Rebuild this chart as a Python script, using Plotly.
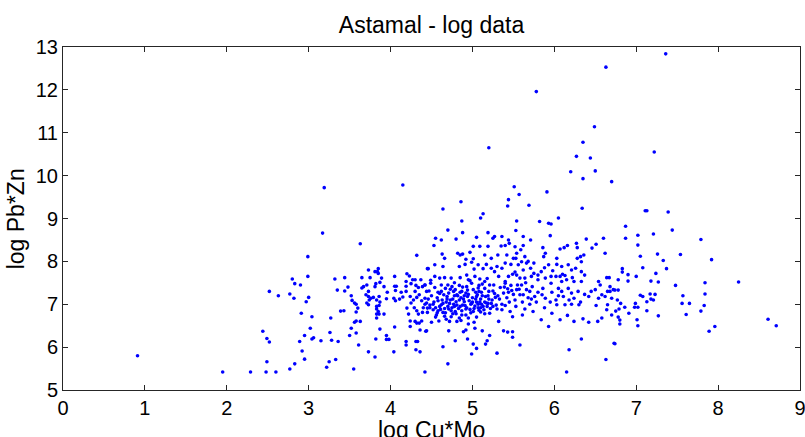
import plotly.graph_objects as go

title_text = "Astamal - log data"
x_label = "log Cu*Mo"
y_label = "log Pb*Zn"
x_ticks = [0, 1, 2, 3, 4, 5, 6, 7, 8, 9]
y_ticks = [5, 6, 7, 8, 9, 10, 11, 12, 13]

# (log Cu*Mo, log Pb*Zn) pairs
pts_low = [
    (0.91, 5.80), (1.95, 5.42),
    (3.17, 8.66), (3.63, 8.41), (4.32, 8.14), (2.99, 8.11), (2.99, 7.65), (2.80, 7.59), (2.83, 7.48),
    (2.90, 7.45), (2.52, 7.30), (2.63, 7.20), (2.77, 7.24), (2.82, 7.14), (3.00, 7.16), (2.97, 7.06),
    (2.91, 6.79), (3.04, 6.71), (3.02, 6.44), (2.44, 6.37), (2.49, 6.20), (2.52, 6.12), (2.95, 6.27),
    (2.89, 6.13), (3.04, 6.19), (3.06, 6.22), (2.92, 5.91), (2.95, 5.72), (2.83, 5.61), (2.77, 5.49),
    (2.49, 5.66), (2.29, 5.42), (2.48, 5.42), (2.60, 5.42), (3.15, 6.15), (3.26, 6.34), (3.28, 6.16),
    (3.36, 6.13), (3.27, 6.68), (3.22, 5.53), (3.25, 5.66), (3.33, 5.71), (3.55, 5.49), (3.32, 7.59),
    (3.44, 7.62), (3.35, 7.33), (3.48, 7.40), (3.44, 7.31), (3.39, 6.84), (3.43, 6.85), (3.52, 7.20),
    (3.53, 7.09), (3.56, 7.03), (3.58, 7.00), (3.60, 6.91), (3.58, 6.82), (3.56, 6.58), (3.58, 6.61),
    (3.63, 6.60), (3.52, 6.44), (3.58, 6.33), (3.50, 6.27), (3.61, 6.05),
    (3.65, 7.62), (3.73, 7.80), (3.75, 7.62), (3.81, 7.76), (3.84, 7.76), (3.85, 7.83), (3.85, 7.72),
    (3.89, 7.61), (3.87, 7.51), (3.82, 7.48), (3.81, 7.41), (3.92, 7.41), (3.96, 7.28), (3.65, 7.38),
    (3.67, 7.41), (3.71, 7.45), (3.73, 7.30), (3.70, 7.22), (3.73, 7.18), (3.76, 7.14), (3.74, 7.10),
    (3.79, 7.16), (3.83, 7.10), (3.86, 7.18), (3.87, 7.05), (3.95, 7.13), (3.71, 7.03), (3.73, 6.99),
    (3.83, 6.95), (3.86, 6.97), (3.83, 6.89), (3.85, 6.83), (3.83, 6.77), (3.86, 6.77), (3.83, 6.68),
    (3.92, 6.77), (3.87, 6.42), (3.82, 6.19), (3.73, 5.89), (3.81, 5.77), (3.95, 6.27), (3.95, 6.18),
    (3.98, 6.18), (4.04, 5.89), (4.05, 6.47),
    (4.05, 7.65), (4.20, 7.71), (4.23, 7.66), (4.05, 7.42), (4.07, 7.42), (4.06, 7.32), (4.04, 7.14),
    (4.06, 7.08), (4.11, 7.12), (4.13, 7.28), (4.15, 7.17), (4.19, 7.53), (4.19, 7.42), (4.19, 7.30),
    (4.25, 7.48), (4.27, 7.57), (4.30, 7.57), (4.31, 7.44), (4.34, 7.39), (4.37, 7.57), (4.39, 7.41),
    (4.42, 7.45), (4.44, 7.30), (4.30, 7.30), (4.35, 7.22), (4.24, 7.18), (4.28, 7.10), (4.32, 7.16),
    (4.38, 7.08), (4.42, 7.14), (4.20, 6.91), (4.22, 6.77), (4.25, 7.03), (4.29, 6.92), (4.32, 6.85),
    (4.34, 6.77), (4.40, 6.92), (4.39, 6.81), (4.42, 7.00), (4.45, 6.91), (4.24, 6.61), (4.30, 6.60),
    (4.32, 6.56), (4.35, 6.56), (4.38, 6.61), (4.24, 6.48), (4.36, 6.40), (4.43, 6.37), (4.19, 6.13),
    (4.19, 6.05), (4.31, 6.13), (4.33, 6.13), (4.31, 5.94), (4.36, 5.89), (4.42, 5.42), (4.46, 7.83),
    (4.49, 7.56),
]

pts_mid = [
    (4.87, 8.94), (5.54, 8.94), (5.82, 8.93), (5.93, 8.89), (5.96, 8.87), (4.70, 8.73), (4.88, 8.67),
    (5.19, 8.67), (5.53, 8.72), (5.95, 8.60), (4.55, 8.54), (4.62, 8.50), (4.80, 8.52), (5.05, 8.56),
    (5.25, 8.54), (5.27, 8.58), (5.36, 8.58), (5.44, 8.50), (5.45, 8.42), (5.62, 8.58), (5.71, 8.50),
    (4.53, 8.37), (5.01, 8.35), (5.09, 8.35), (5.19, 8.35), (5.35, 8.36), (5.40, 8.37), (5.52, 8.34),
    (5.62, 8.37), (5.59, 8.27), (5.86, 8.32), (6.07, 8.29), (6.12, 8.32), (6.16, 8.37), (6.27, 8.42),
    (6.28, 8.32), (6.39, 8.52), (6.46, 8.31), (6.51, 8.40), (6.60, 8.54),
    (4.82, 8.19), (4.85, 8.15), (4.88, 8.17), (4.92, 8.05), (4.63, 8.17), (4.66, 8.07), (4.97, 8.21),
    (5.01, 8.06), (5.15, 8.15), (5.23, 8.07), (5.31, 8.15), (5.42, 8.15), (5.54, 8.19), (5.53, 8.07),
    (5.64, 8.11), (5.87, 8.11), (5.89, 8.19), (6.03, 8.07), (6.32, 8.11), (6.36, 8.15), (6.28, 8.07),
    (6.33, 7.99), (6.62, 8.19),
    (4.45, 7.83), (4.54, 7.92), (4.64, 7.88), (4.84, 7.88), (4.91, 7.93), (4.99, 7.98), (5.02, 7.82),
    (5.07, 7.92), (5.13, 7.83), (5.17, 7.93), (5.23, 7.84), (5.27, 7.76), (5.30, 7.88), (5.36, 7.84),
    (5.40, 7.96), (5.47, 7.93), (5.50, 8.07), (5.56, 7.92), (5.60, 7.99), (5.66, 7.96), (5.71, 7.84),
    (5.75, 7.96), (5.80, 7.68), (5.84, 7.76), (5.93, 7.92), (6.03, 7.93), (6.09, 7.88), (6.17, 7.92),
    (6.21, 7.80), (6.26, 7.84), (6.33, 7.76), (6.37, 7.68), (5.96, 7.65), (6.02, 7.65), (6.07, 7.65),
    (6.13, 7.67), (4.54, 7.65), (4.60, 7.61), (4.66, 7.62), (4.74, 7.61), (4.85, 7.62), (4.93, 7.68),
    (4.95, 7.57), (5.03, 7.65), (5.09, 7.59), (5.15, 7.53), (5.32, 7.65), (5.40, 7.53), (5.44, 7.65),
    (5.49, 7.70), (5.54, 7.68), (5.58, 7.61), (5.64, 7.61), (5.72, 7.65), (5.80, 7.57), (5.89, 7.61),
    (6.09, 7.53), (6.15, 7.57), (6.24, 7.53), (6.33, 7.53), (6.54, 7.53), (6.64, 7.62), (6.67, 7.62),
    (6.56, 7.45),
    (4.42, 7.45), (4.49, 7.49), (4.47, 7.31), (4.54, 7.39), (4.58, 7.28), (4.62, 7.45), (4.67, 7.37),
    (4.71, 7.26), (4.75, 7.41), (4.79, 7.34), (4.81, 7.22), (4.84, 7.44), (4.87, 7.30), (4.93, 7.41),
    (4.95, 7.23), (4.99, 7.49), (5.01, 7.34), (5.05, 7.18), (5.08, 7.44), (5.11, 7.28), (5.15, 7.37),
    (5.19, 7.20), (5.21, 7.45), (5.25, 7.31), (5.28, 7.16), (5.34, 7.39), (5.38, 7.26), (5.40, 7.49),
    (5.43, 7.36), (5.47, 7.44), (5.50, 7.23), (5.54, 7.34), (5.60, 7.45), (5.62, 7.22), (5.66, 7.34),
    (5.70, 7.30), (5.73, 7.41), (5.76, 7.18), (5.80, 7.28), (5.86, 7.37), (5.89, 7.14), (5.96, 7.49),
    (5.97, 7.28), (6.02, 7.10), (6.05, 7.37), (6.09, 7.30), (6.11, 7.18), (6.17, 7.37), (6.21, 7.26),
    (6.24, 7.14), (6.29, 7.30), (6.37, 7.23), (6.42, 7.18), (6.50, 7.34), (6.54, 7.14), (6.62, 7.18),
    (6.65, 7.30), (6.72, 7.34),
]

pts_dense = [
    (4.44, 7.03), (4.48, 6.92), (4.45, 6.81), (4.52, 6.87), (4.56, 6.75), (4.50, 6.58), (4.59, 6.61),
    (4.62, 6.99), (4.64, 6.81), (4.68, 7.05), (4.71, 6.89), (4.74, 6.71), (4.77, 7.00), (4.79, 6.83),
    (4.81, 6.60), (4.85, 6.95), (4.87, 6.75), (4.90, 7.06), (4.92, 6.89), (4.95, 6.54), (4.98, 7.00),
    (5.01, 6.83), (5.05, 7.05), (5.07, 6.92), (5.11, 7.00), (5.14, 6.87), (5.17, 7.03), (5.21, 6.79),
    (5.25, 6.95), (5.30, 6.89), (5.32, 6.60), (5.36, 6.87), (5.40, 6.97), (5.46, 6.83), (5.49, 6.71),
    (5.53, 6.95), (5.61, 6.75), (5.64, 6.89), (5.70, 7.00), (5.74, 6.83), (5.78, 7.05), (5.84, 6.64),
    (5.88, 6.92), (5.93, 6.48), (5.97, 6.79), (6.03, 6.99), (6.07, 6.64), (6.13, 6.99), (6.16, 6.74),
    (6.21, 7.00), (6.24, 6.60), (6.30, 6.99), (6.35, 6.66), (6.42, 6.58), (6.51, 6.97), (6.53, 6.60),
    (6.64, 6.87), (6.65, 6.99), (6.70, 6.75), (6.58, 6.68),
    (4.44, 6.38), (4.71, 6.38), (4.89, 6.36), (4.92, 6.40), (5.03, 6.44), (5.12, 6.38), (5.21, 6.27),
    (5.38, 6.38), (5.43, 6.35), (5.49, 6.36), (5.49, 6.23), (4.94, 6.19), (4.79, 6.15), (5.18, 6.15),
    (5.16, 6.07), (5.58, 6.05), (5.01, 6.07), (5.05, 5.97), (4.64, 6.01), (4.99, 5.84), (5.30, 5.86),
    (6.18, 5.94), (6.33, 6.19), (6.73, 6.09), (6.63, 5.71), (4.70, 5.61), (6.15, 5.42),
    (4.46, 7.12), (4.50, 7.20), (4.53, 7.05), (4.57, 7.15), (4.60, 6.95), (4.63, 7.10), (4.66, 6.90),
    (4.69, 7.18), (4.72, 7.02), (4.74, 6.85), (4.76, 7.12), (4.78, 6.95), (4.80, 7.06), (4.83, 6.90),
    (4.86, 7.15), (4.88, 6.98), (4.90, 7.20), (4.93, 6.92), (4.96, 7.08), (4.98, 6.80), (5.00, 7.15),
    (5.03, 6.96), (5.06, 7.22), (5.08, 6.86), (5.10, 7.12), (5.13, 6.95), (5.16, 7.18), (5.19, 7.02),
    (5.22, 6.90), (5.24, 7.10), (5.27, 7.25), (5.29, 6.98), (5.33, 7.12), (5.36, 7.00), (5.39, 7.40),
    (5.42, 7.15), (5.45, 7.05), (5.48, 7.32), (5.52, 7.10), (5.55, 7.45), (5.58, 7.22), (5.61, 7.05),
    (5.65, 7.50), (5.68, 7.15), (4.55, 6.70), (4.68, 6.65), (4.76, 6.78), (4.84, 6.68), (4.92, 6.75),
    (5.05, 6.70), (5.15, 6.78), (4.70, 7.45), (4.78, 7.50), (4.88, 7.40), (4.97, 7.55), (5.07, 7.38),
    (5.18, 7.60), (5.26, 7.45), (4.62, 7.30), (4.73, 7.35), (4.85, 7.28), (4.94, 7.33), (5.04, 7.28),
    (5.12, 7.47), (4.48, 6.98), (4.58, 6.85), (4.65, 7.22), (4.82, 7.20), (4.99, 7.02), (5.09, 7.05),
    (5.20, 7.30), (5.31, 7.20), (5.44, 7.28), (5.57, 7.35), (5.72, 7.12), (5.85, 7.22), (5.95, 7.05),
    (6.05, 7.20), (6.18, 7.10), (6.32, 7.05), (6.45, 7.30), (6.58, 7.22),
    (5.62, 7.80), (5.75, 7.72), (5.88, 7.85), (5.98, 7.78), (6.10, 7.70), (6.22, 7.62), (5.52, 7.75),
    (5.68, 8.00),
    (4.52, 7.00), (4.55, 6.92), (4.58, 7.08), (4.61, 6.88), (4.64, 7.02), (4.67, 6.80), (4.70, 6.95),
    (4.73, 7.10), (4.75, 6.92), (4.78, 7.20), (4.81, 6.98), (4.84, 7.10), (4.87, 6.85), (4.89, 7.12),
    (4.91, 6.97), (4.94, 7.18), (4.97, 6.88), (5.00, 7.05), (5.02, 6.90), (5.04, 7.12), (5.07, 7.00),
    (5.10, 6.92), (5.12, 7.20), (5.15, 7.05), (5.18, 6.95), (5.20, 7.12), (5.23, 7.02), (4.60, 7.25),
    (4.77, 7.30), (4.92, 7.26), (5.08, 7.30), (4.66, 6.72), (4.80, 6.78), (4.95, 6.68), (5.10, 6.82),
    (4.72, 6.60), (4.86, 6.62), (5.02, 6.58), (4.57, 6.80), (4.69, 7.12),
]

pts_high = [
    (3.19, 9.72), (4.15, 9.78),
    (6.63, 12.53), (5.78, 11.96), (6.49, 11.14), (6.35, 10.78), (5.20, 10.65), (6.27, 10.45),
    (6.44, 10.41), (6.20, 10.09), (6.50, 10.11), (6.35, 9.93), (6.70, 9.86), (5.51, 9.74), (5.91, 9.62),
    (5.57, 9.56), (5.44, 9.44), (4.86, 9.39), (4.64, 9.22), (5.43, 9.29), (5.69, 9.31), (6.34, 9.24),
    (5.13, 9.11), (5.10, 9.01), (6.05, 9.01),
    (7.36, 12.84), (7.22, 10.55), (7.11, 9.18), (7.13, 9.18), (7.39, 9.15),
]

pts_right = [
    (6.87, 8.82), (6.87, 8.54), (7.02, 8.61), (7.02, 8.38), (7.21, 8.64), (7.44, 8.73), (7.79, 8.51),
    (7.05, 8.12), (7.26, 8.17), (7.54, 8.16), (7.33, 8.02), (7.92, 8.04), (7.08, 7.85), (6.83, 7.83),
    (6.83, 7.75), (7.37, 7.83), (6.90, 7.69), (7.00, 7.65), (7.24, 7.72), (6.78, 7.57), (6.90, 7.54),
    (7.18, 7.54), (7.27, 7.52), (7.48, 7.44), (7.84, 7.50), (8.25, 7.52), (6.68, 7.41), (6.68, 7.30),
    (6.74, 7.33), (6.78, 7.33), (6.70, 7.14), (6.77, 7.10), (7.05, 7.21), (7.08, 7.18), (7.17, 7.24),
    (7.23, 7.23), (7.18, 7.12), (7.21, 7.10), (7.13, 7.06), (7.57, 7.20), (7.84, 7.24), (6.81, 7.02),
    (6.99, 7.02), (7.56, 7.02), (7.65, 7.02), (6.86, 6.93), (6.98, 6.93), (7.02, 6.93), (7.83, 6.97),
    (6.75, 6.84), (6.79, 6.89), (6.91, 6.79), (7.13, 6.85), (7.79, 6.84), (7.61, 6.76), (7.27, 6.73),
    (6.78, 6.70), (6.80, 6.63), (7.01, 6.64), (8.61, 6.65), (6.80, 6.54), (7.02, 6.50), (8.71, 6.50),
    (7.96, 6.48), (7.89, 6.37), (6.74, 6.08),
]

all_pts = pts_low + pts_mid + pts_dense + pts_high + pts_right
cu_mo = [p[0] for p in all_pts]
pb_zn = [p[1] for p in all_pts]

FONT = "Liberation Sans, Arial, Helvetica, sans-serif"

fig = go.Figure()
fig.add_trace(go.Scatter(
    x=cu_mo, y=pb_zn, mode="markers",
    marker=dict(symbol="circle", size=3.6, color="#0000ff", line=dict(width=0)),
    hoverinfo="x+y", showlegend=False,
))

axis_common = dict(
    showgrid=False, zeroline=False, showline=True, linecolor="#262626", linewidth=1,
    mirror="allticks", ticks="inside", ticklen=5, tickwidth=1, tickcolor="#262626",
    tickfont=dict(family=FONT, size=20, color="black"),
    ticklabeloverflow="allow",
)

fig.update_xaxes(range=[0, 9], tickvals=x_ticks, ticktext=[str(v) for v in x_ticks], **axis_common)
fig.update_yaxes(range=[5, 13], tickvals=y_ticks, ticktext=[str(v) for v in y_ticks], **axis_common)

fig.update_layout(
    width=805, height=437,
    margin=dict(l=63, r=5, t=47, b=47, autoexpand=False),
    paper_bgcolor="white", plot_bgcolor="white",
    title=dict(text=title_text, x=(63 + 368.5) / 805, xref="container", xanchor="center",
               y=1 - 25 / 437, yref="container", yanchor="middle",
               font=dict(family=FONT, size=23, color="black")),
    annotations=[
        dict(text=x_label, xref="paper", yref="paper", x=0.5, y=-0.118, xanchor="center",
             yanchor="middle", showarrow=False, font=dict(family=FONT, size=23, color="black")),
        dict(text=y_label, xref="paper", yref="paper", x=-0.064, y=0.5, xanchor="center",
             yanchor="middle", showarrow=False, textangle=-90,
             font=dict(family=FONT, size=23, color="black")),
    ],
)

fig.write_html("out.html", config={"displayModeBar": False},
               post_script="document.body.style.margin='0px';")
